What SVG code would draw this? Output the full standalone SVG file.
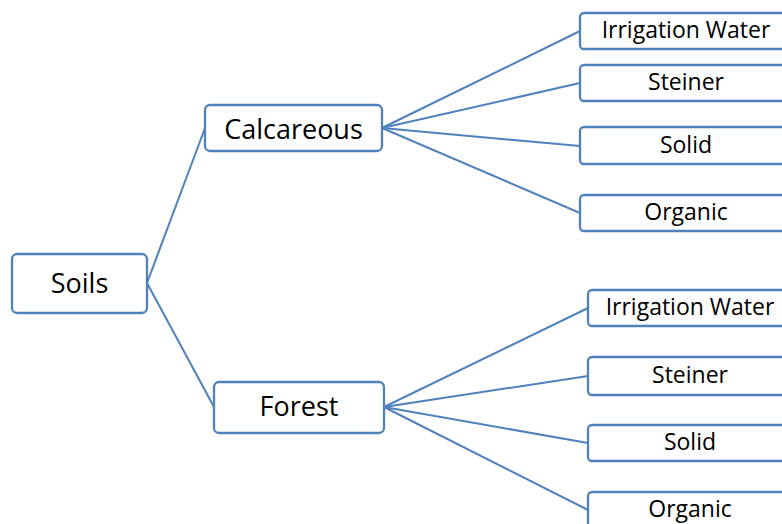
<svg xmlns="http://www.w3.org/2000/svg" width="782" height="524" viewBox="0 0 782 524">
<style>
.box{fill:#ffffff;stroke:#4f81bd;stroke-width:2.3}
.lnk{stroke:#4f81bd;stroke-width:2;fill:none}
.big{font-family:"Open Sans","Liberation Sans",sans-serif;font-size:27px;fill:#000;text-anchor:middle}
.sm{font-family:"Open Sans","Liberation Sans",sans-serif;font-size:23px;fill:#000;text-anchor:middle}
</style>
<rect width="782" height="524" fill="#ffffff"/>
<g id="connectors">
<line class="lnk" x1="147" y1="283" x2="205" y2="128"/>
<line class="lnk" x1="147" y1="283" x2="214" y2="407"/>
<line class="lnk" x1="382" y1="128" x2="580" y2="31"/>
<line class="lnk" x1="382" y1="128" x2="580" y2="83"/>
<line class="lnk" x1="382" y1="128" x2="580" y2="146"/>
<line class="lnk" x1="382" y1="128" x2="580" y2="213"/>
<line class="lnk" x1="384" y1="407" x2="588" y2="308"/>
<line class="lnk" x1="384" y1="407" x2="588" y2="376"/>
<line class="lnk" x1="384" y1="407" x2="588" y2="443"/>
<line class="lnk" x1="384" y1="407" x2="588" y2="510"/>
</g>
<g id="soils"><rect class="box" x="12" y="254" width="135" height="59" rx="5"/><text class="big" x="79.5" y="293">Soils</text></g>
<g id="calcareous"><rect class="box" x="205" y="105" width="177" height="46" rx="5"/><text class="big" x="293.5" y="139">Calcareous</text></g>
<g id="forest"><rect class="box" x="214" y="382" width="170" height="51" rx="5"/><text class="big" x="299" y="416">Forest</text></g>
<g id="c-irrigation"><rect class="box" x="580" y="13" width="212" height="36" rx="4"/><text class="sm" x="686" y="38">Irrigation Water</text></g>
<g id="c-steiner"><rect class="box" x="580" y="65" width="212" height="36" rx="4"/><text class="sm" x="686" y="90">Steiner</text></g>
<g id="c-solid"><rect class="box" x="580" y="127" width="212" height="37" rx="4"/><text class="sm" x="686" y="153">Solid</text></g>
<g id="c-organic"><rect class="box" x="580" y="195" width="212" height="36" rx="4"/><text class="sm" x="686" y="220">Organic</text></g>
<g id="f-irrigation"><rect class="box" x="588" y="290" width="212" height="36" rx="4"/><text class="sm" x="690" y="315">Irrigation Water</text></g>
<g id="f-steiner"><rect class="box" x="588" y="357" width="212" height="38" rx="4"/><text class="sm" x="690" y="383">Steiner</text></g>
<g id="f-solid"><rect class="box" x="588" y="425" width="212" height="36" rx="4"/><text class="sm" x="690" y="450">Solid</text></g>
<g id="f-organic"><rect class="box" x="588" y="492" width="212" height="40" rx="4"/><text class="sm" x="690" y="517">Organic</text></g>
</svg>
